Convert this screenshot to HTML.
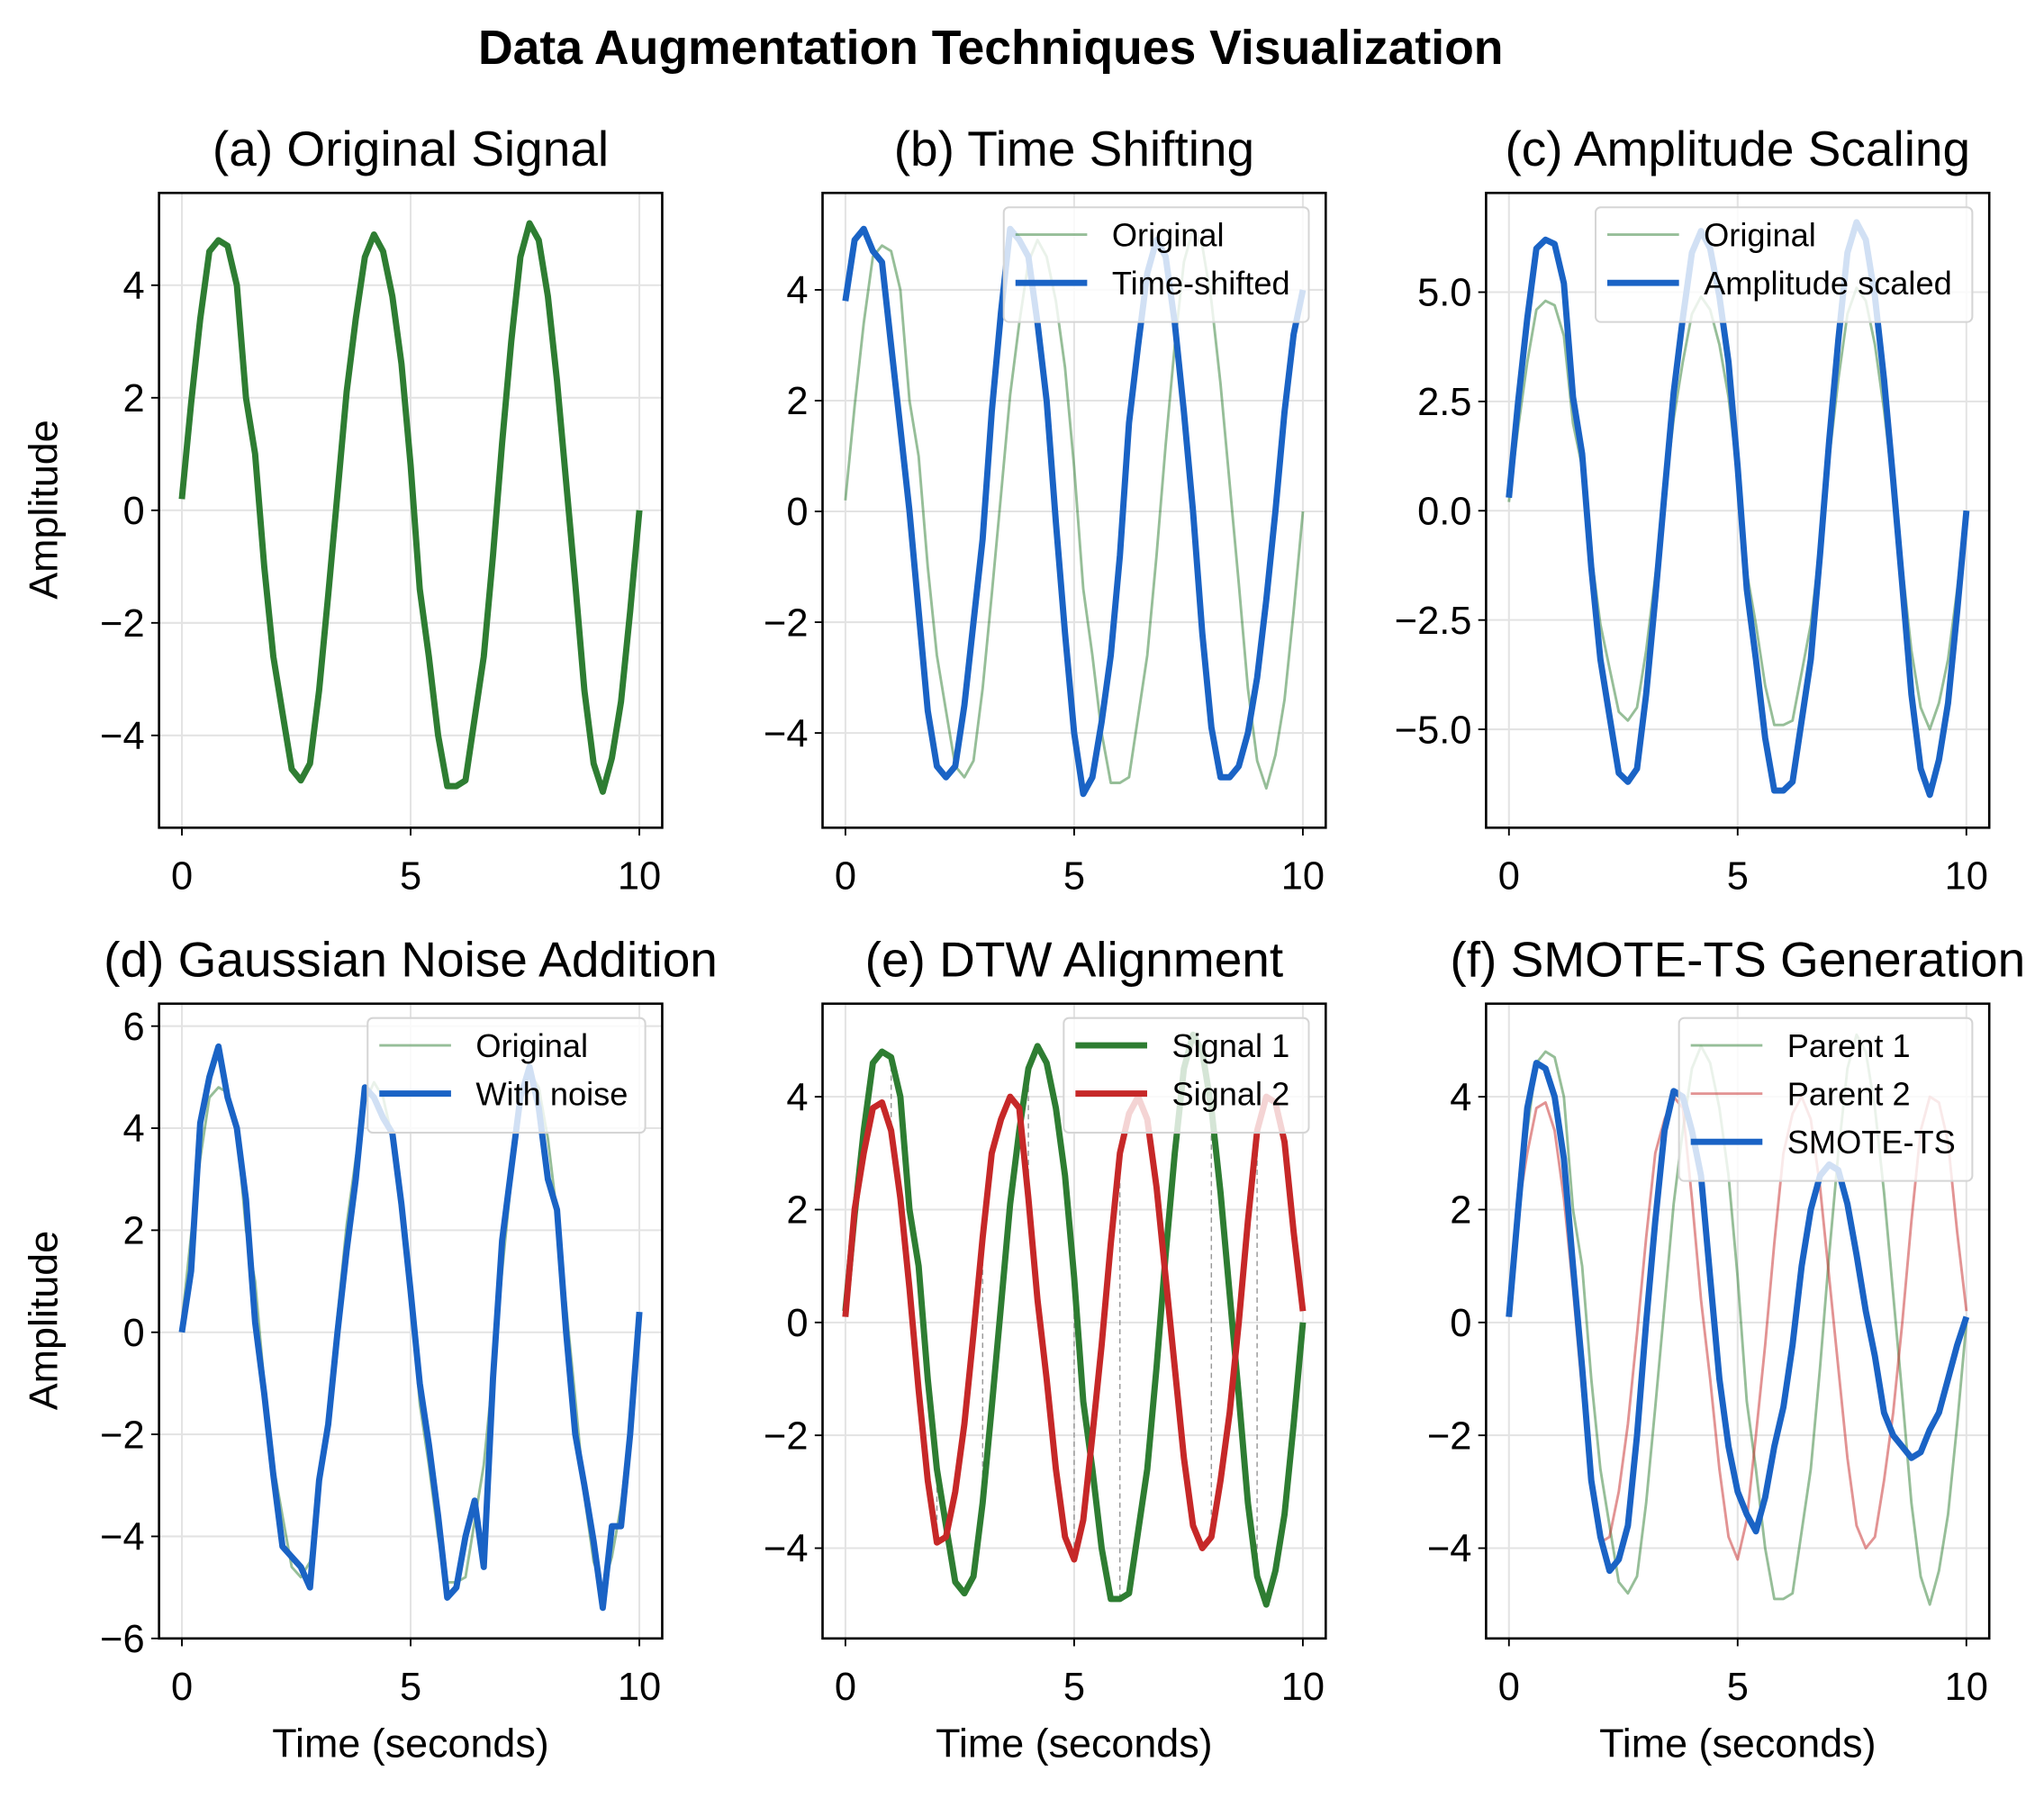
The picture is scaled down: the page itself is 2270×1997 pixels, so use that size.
<!DOCTYPE html>
<html><head><meta charset="utf-8"><style>
html,body{margin:0;padding:0;background:#fff;}
svg{display:block;font-family:"Liberation Sans",Arial,sans-serif;}
</style></head><body>
<svg id="fig" width="2270" height="1997" viewBox="0 0 1568 1379.4" xmlns="http://www.w3.org/2000/svg">
<rect width="1568" height="1379.4" fill="#fff"/>
<text x="760" y="49" text-anchor="middle" font-size="37" font-weight="bold">Data Augmentation Techniques Visualization</text>
</svg>
<script>
const times = [0,0.2,0.4,0.6,0.8,1,1.2,1.4,1.6,1.8,2,2.2,2.4,2.6,2.8,3,3.2,3.4,3.6,3.8,4,4.2,4.4,4.6,4.8,5,5.2,5.4,5.6,5.8,6,6.2,6.4,6.6,6.8,7,7.2,7.4,7.6,7.8,8,8.2,8.4,8.6,8.8,9,9.2,9.4,9.6,9.8,10];
const original = [0.2,1.9,3.4,4.6,4.8,4.7,4.0,2.0,1.0,-1.0,-2.6,-3.6,-4.6,-4.8,-4.5,-3.2,-1.5,0.3,2.1,3.4,4.5,4.9,4.6,3.8,2.6,0.8,-1.4,-2.6,-4.0,-4.9,-4.9,-4.8,-3.7,-2.6,-0.8,1.2,3.0,4.5,5.1,4.8,3.8,2.3,0.5,-1.3,-3.2,-4.5,-5.0,-4.4,-3.4,-1.8,0.0];
const shifted = [3.8,4.9,5.1,4.7,4.5,3.0,1.5,0.0,-1.8,-3.6,-4.6,-4.8,-4.6,-3.5,-2.0,-0.5,1.8,3.6,5.1,4.9,4.6,3.4,2.0,-0.2,-2.2,-4.0,-5.1,-4.8,-3.8,-2.6,-0.8,1.6,3.0,4.3,4.9,4.6,3.4,1.8,0.0,-2.2,-3.9,-4.8,-4.8,-4.6,-4.0,-3.0,-1.6,0.0,1.8,3.2,4.0];
const scaled = [0.3,2.5,4.4,6.0,6.2,6.1,5.2,2.6,1.3,-1.3,-3.4,-4.7,-6.0,-6.2,-5.9,-4.2,-2.0,0.4,2.7,4.4,5.9,6.4,6.0,4.9,3.4,1.0,-1.8,-3.4,-5.2,-6.4,-6.4,-6.2,-4.8,-3.4,-1.0,1.6,3.9,5.9,6.6,6.2,4.9,3.0,0.7,-1.7,-4.2,-5.9,-6.5,-5.7,-4.4,-2.3,0.0];
const noisy = [0.0,1.2,4.1,5.0,5.6,4.6,4.0,2.6,0.2,-1.2,-2.8,-4.2,-4.4,-4.6,-5.0,-2.9,-1.8,0.0,1.6,3.0,4.8,4.6,4.2,3.9,2.5,0.8,-1.0,-2.2,-3.6,-5.2,-5.0,-4.0,-3.3,-4.6,-0.9,1.8,3.2,4.6,5.2,4.4,3.0,2.4,0.0,-2.0,-3.0,-4.1,-5.4,-3.8,-3.8,-2.0,0.4];
const signal2 = [0.1,2.0,3.0,3.8,3.9,3.4,2.2,0.6,-1.2,-2.8,-3.9,-3.8,-3.0,-1.8,-0.2,1.5,3.0,3.6,4.0,3.8,2.2,0.4,-1.0,-2.6,-3.8,-4.2,-3.5,-2.0,-0.4,1.4,3.0,3.7,4.0,3.6,2.4,0.8,-0.8,-2.4,-3.6,-4.0,-3.8,-2.8,-1.6,0.0,1.8,3.4,4.0,3.9,3.2,1.6,0.2];
const smote = [0.1,2.0,3.8,4.6,4.5,4.0,2.9,1.0,-0.8,-2.8,-3.8,-4.4,-4.2,-3.6,-2.0,0.0,1.8,3.4,4.1,4.0,3.4,2.6,0.8,-1.0,-2.2,-3.0,-3.4,-3.7,-3.1,-2.2,-1.5,-0.4,1.0,2.0,2.6,2.8,2.7,2.1,1.2,0.2,-0.6,-1.6,-2.0,-2.2,-2.4,-2.3,-1.9,-1.6,-1.0,-0.4,0.1];
const xTicks = [0,5,10];
const yTicksA = [-4,-2,0,2,4];
const yTicksC = [-5,-2.5,0,2.5,5];
const yTicksD = [-6,-4,-2,0,2,4,6];
const yTickLabelsC = ["\u22125.0","\u22122.5","0.0","2.5","5.0"];
const dtwIdx = [5,10,15,20,25,30,35,40,45];

const GREEN="#2e7d32", BLUE="#1a63c5", RED="#c62828";
const svg=document.getElementById('fig');
const NS="http://www.w3.org/2000/svg";
function mk(tag,attrs,parent){const e=document.createElementNS(NS,tag);for(const k in attrs)e.setAttribute(k,attrs[k]);(parent||svg).appendChild(e);return e;}

function panel(p){
  const g=mk('g',{});
  
  
  const L=p.x,R=p.x+386,T=p.y,B=p.y+487;
  const xs=v=>L+(v+0.5)/11*386;
  const ys=v=>B-(v-p.ymin)/(p.ymax-p.ymin)*487;
  xTicks.forEach(t=>{const l=mk('line',{x1:xs(t),x2:xs(t),y1:T,y2:B,stroke:'#e3e3e3','stroke-width':1.4},g);
    
    });
  p.yt.forEach(t=>{const l=mk('line',{x1:L,x2:R,y1:ys(t),y2:ys(t),stroke:'#e3e3e3','stroke-width':1.4},g);
    
    });
  const clip='c'+p.name;
  const cp=mk('clipPath',{id:clip},g);mk('rect',{x:L,y:T,width:386,height:487},cp);
  const sg=mk('g',{'clip-path':'url(#'+clip+')'},g);
  if(p.dtw){dtwIdx.forEach(i=>{const l=mk('line',{x1:xs(times[i]),x2:xs(times[i]),y1:ys(original[i]),y2:ys(signal2[i]),stroke:'#999','stroke-width':1,'stroke-dasharray':'4,3'},sg);
    
    });}
  p.series.forEach(s=>{
    const d=s.data.map((v,i)=>(i?'L':'M')+xs(times[i]).toFixed(1)+','+ys(v).toFixed(1)).join('');
    const e=mk('path',{d:d,fill:'none',stroke:s.color,'stroke-width':s.w,'stroke-opacity':s.op||1,'stroke-linejoin':'round'},sg);
    
    
  });
  const fr=mk('rect',{x:L,y:T,width:386,height:487,fill:'none',stroke:'#000','stroke-width':1.8},g);
  
  
  xTicks.forEach(t=>{mk('line',{x1:xs(t),x2:xs(t),y1:B,y2:B+6,stroke:'#000','stroke-width':1.3},g);
    const tx=mk('text',{x:xs(t),y:B+47,'text-anchor':'middle','font-size':30},g);tx.textContent=t;
    
    });
  p.yt.forEach((t,i)=>{mk('line',{x1:L-6,x2:L,y1:ys(t),y2:ys(t),stroke:'#000','stroke-width':1.3},g);
    const tx=mk('text',{x:L-11,y:ys(t)+10.5,'text-anchor':'end','font-size':30},g);
    tx.textContent=p.ytl?p.ytl[i]:(t<0?'\u2212'+(-t):String(t));
    
    });
  const ti=mk('text',{x:L+193,y:T-21,'text-anchor':'middle','font-size':38},g);ti.textContent=p.title;
  
  
  if(p.ylab){const yl=mk('text',{x:0,y:0,transform:'translate(44,'+(T+243)+') rotate(-90)','text-anchor':'middle','font-size':31},g);yl.textContent='Amplitude';
    
    }
  if(p.xlab){const xl=mk('text',{x:L+193,y:B+91,'text-anchor':'middle','font-size':31},g);xl.textContent='Time (seconds)';
    
    }
  if(p.leg){
    const lg=mk('g',{},g);
    
    
    const n=p.leg.length, lx=R-p.legW-13, ly=T+11;
    mk('rect',{x:lx,y:ly,width:p.legW,height:14+n*37,rx:4,fill:'#fff','fill-opacity':0.8,stroke:'#d5d5d5','stroke-width':1.4},lg);
    p.leg.forEach((s,i)=>{const yy=ly+21+i*37;
      const e=mk('g',{},lg);
      
      
      mk('line',{x1:lx+9,x2:lx+64,y1:yy,y2:yy,stroke:s.color,'stroke-width':s.w,'stroke-opacity':s.op||1},e);
      const t=mk('text',{x:lx+83,y:yy+9,'font-size':25},e);t.textContent=s.label;});
  }
}
const thin=(d,c,id,label)=>({data:d,color:c,w:2,op:0.5,id:id,label:label});
const thick=(d,c,id,label)=>({data:d,color:c,w:4.8,id:id,label:label});
let s;
panel({name:'panel-a-original',x:122,y:148,ymin:-5.64,ymax:5.64,yt:yTicksA,title:'(a) Original Signal',ylab:true,
  series:[thick(original,GREEN,'original-line')]});
s=[thin(original,GREEN,'original-line','Original'),thick(shifted,BLUE,'time-shifted-line','Time-shifted')];
panel({name:'panel-b-time-shift',x:631,y:148,ymin:-5.71,ymax:5.75,yt:yTicksA,title:'(b) Time Shifting',series:s,leg:s,legW:234});
s=[thin(original,GREEN,'original-line','Original'),thick(scaled,BLUE,'scaled-line','Amplitude scaled')];
panel({name:'panel-c-amplitude',x:1140,y:148,ymin:-7.25,ymax:7.27,yt:yTicksC,ytl:yTickLabelsC,title:'(c) Amplitude Scaling',series:s,leg:s,legW:289});
s=[thin(original,GREEN,'original-line','Original'),thick(noisy,BLUE,'noisy-line','With noise')];
panel({name:'panel-d-noise',x:122,y:770,ymin:-6.0,ymax:6.44,yt:yTicksD,title:'(d) Gaussian Noise Addition',ylab:true,xlab:true,series:s,leg:s,legW:213});
s=[thick(original,GREEN,'signal1-line','Signal 1'),thick(signal2,RED,'signal2-line','Signal 2')];
panel({name:'panel-e-dtw',x:631,y:770,ymin:-5.6,ymax:5.65,yt:yTicksA,title:'(e) DTW Alignment',xlab:true,dtw:true,series:s,leg:s,legW:188});
s=[thin(original,GREEN,'parent1-line','Parent 1'),thin(signal2,RED,'parent2-line','Parent 2'),thick(smote,BLUE,'smote-line','SMOTE-TS')];
panel({name:'panel-f-smote',x:1140,y:770,ymin:-5.6,ymax:5.65,yt:yTicksA,title:'(f) SMOTE-TS Generation',xlab:true,series:s,leg:s,legW:225});
</script>
</body></html>
